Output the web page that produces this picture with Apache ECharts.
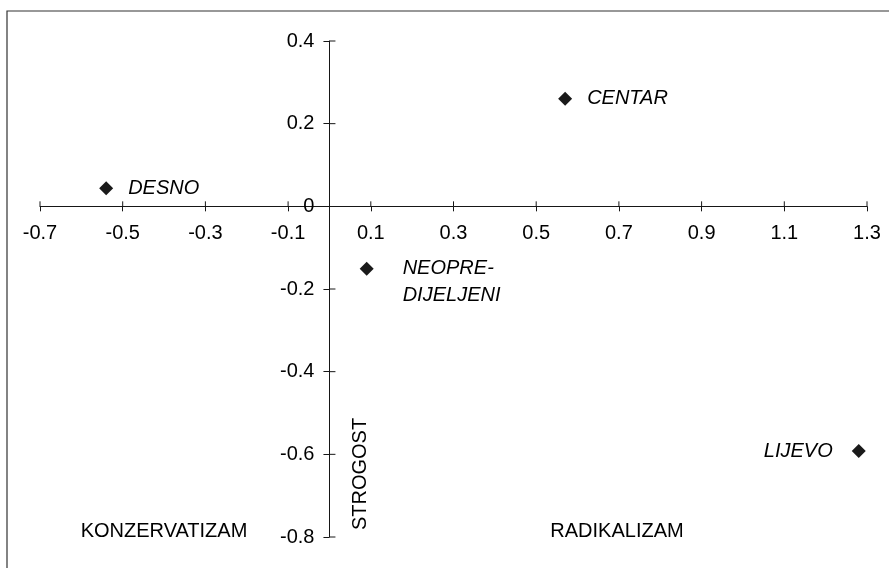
<!DOCTYPE html>
<html>
<head>
<meta charset="utf-8">
<script src="https://cdn.jsdelivr.net/npm/echarts@6/dist/echarts.min.js"></script>
<style>html,body{margin:0;padding:0;background:#fff}#c{width:889px;height:568px}</style>
</head>
<body>
<div id="c"></div>
<script>
const names = ['DESNO', 'CENTAR', 'NEOPRE-\nDIJELJENI', 'LIJEVO'];
const xValues = [-0.54, 0.57, 0.09, 1.28];
const yValues = [0.044, 0.26, -0.151, -0.592];
const labelSides = ['right', 'right', 'right', 'left'];
const xRange = [-0.7, 1.3];
const yRange = [-0.8, 0.4];
const tickStep = 0.2;
const xTicks = [-0.7, -0.5, -0.3, -0.1, 0.1, 0.3, 0.5, 0.7, 0.9, 1.1, 1.3];
const yTicks = [-0.8, -0.6, -0.4, -0.2, 0, 0.2, 0.4];
const quadrantTexts = ['KONZERVATIZAM', 'RADIKALIZAM'];
const verticalText = 'STROGOST';

const FONT = 'Liberation Sans, Arial, sans-serif';
const AXIS_COLOR = '#161616';

const chart = echarts.init(document.getElementById('c'), null, {renderer: 'canvas'});

const data = names.map((n, i) => ({
  name: n,
  value: [xValues[i], yValues[i]],
  label: labelSides[i] === 'left'
    ? {position: 'left', distance: 19}
    : (n.indexOf('\n') >= 0
        ? {position: 'right', distance: 29, offset: [0, 13]}
        : {position: 'right', distance: 15})
}));

// tick marks (inner halves) and tick labels, placed through the axes' own scales
// kind: 0 = x tick, 1 = y tick
const tickData = xTicks.map(v => [v, 0, 0]).concat(yTicks.map(v => [0, v, 1]));

chart.setOption({
  animation: false,
  backgroundColor: '#fff',
  grid: {left: 40, right: 22, top: 41, bottom: 31, containLabel: false, outerBoundsMode: 'none'},
  xAxis: {
    type: 'value', min: xRange[0], max: xRange[1], interval: tickStep,
    splitLine: {show: false},
    axisLine: {onZero: true, lineStyle: {color: AXIS_COLOR, width: 1}},
    axisTick: {show: true, inside: false, length: 5, lineStyle: {color: AXIS_COLOR}},
    axisLabel: {show: false}
  },
  yAxis: {
    type: 'value', min: yRange[0], max: yRange[1], interval: tickStep,
    splitLine: {show: false},
    axisLine: {onZero: true, lineStyle: {color: AXIS_COLOR, width: 1}},
    axisTick: {show: true, inside: false, length: 6, lineStyle: {color: AXIS_COLOR}},
    axisLabel: {show: false}
  },
  series: [{
    type: 'scatter',
    symbol: 'diamond',
    symbolSize: 14,
    itemStyle: {color: '#1a1a1a', opacity: 1},
    label: {
      show: true,
      formatter: '{b}',
      color: '#000',
      fontSize: 20,
      fontStyle: 'italic',
      fontFamily: FONT,
      lineHeight: 27
    },
    data: data,
    z: 5
  }, {
    type: 'custom',
    silent: true,
    data: tickData,
    renderItem: function (params, api) {
      const isX = api.value(2) === 0;
      const v = api.value(isX ? 0 : 1);
      const p = api.coord([api.value(0), api.value(1)]);
      const children = [];
      if (v !== 0) {
        children.push({
          type: 'line',
          shape: isX
            ? {x1: p[0], y1: p[1], x2: p[0], y2: p[1] - 5}
            : {x1: p[0], y1: p[1], x2: p[0] + 6, y2: p[1]},
          style: {stroke: AXIS_COLOR, lineWidth: 1}
        });
      }
      children.push({
        type: 'text',
        x: isX ? p[0] : p[0] - 15,
        y: isX ? p[1] + 27 : p[1],
        style: {
          text: String(v), fill: '#000', fontSize: 20, fontFamily: FONT,
          textAlign: isX ? 'center' : 'right', textVerticalAlign: 'middle'
        }
      });
      return {type: 'group', children: children};
    },
    z: 3
  }],
  graphic: [
    {type: 'rect', shape: {x: 7, y: 11, width: 1000, height: 1000},
     style: {fill: 'none', stroke: '#333', lineWidth: 1.2}, silent: true},
    {type: 'text', x: 164, y: 531,
     style: {text: quadrantTexts[0], fontSize: 20, fontFamily: FONT, fill: '#000',
             textAlign: 'center', textVerticalAlign: 'middle'}},
    {type: 'text', x: 617, y: 531,
     style: {text: quadrantTexts[1], fontSize: 20, fontFamily: FONT, fill: '#000',
             textAlign: 'center', textVerticalAlign: 'middle'}},
    {type: 'text', x: 360, y: 474, rotation: Math.PI / 2,
     style: {text: verticalText, fontSize: 20, fontFamily: FONT, fill: '#000',
             textAlign: 'center', textVerticalAlign: 'middle'}}
  ]
});
</script>
</body>
</html>
